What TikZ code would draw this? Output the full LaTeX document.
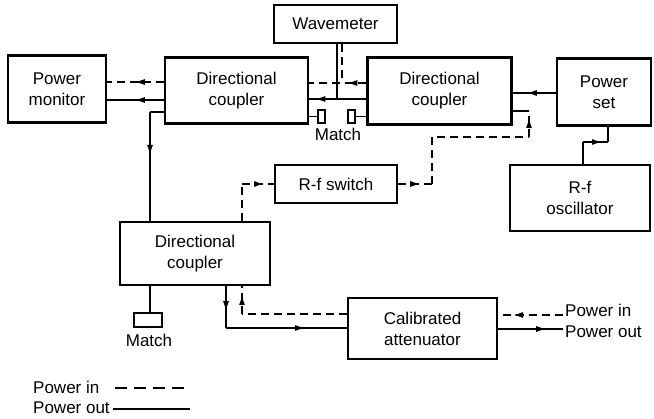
\documentclass[tikz,border=0pt]{standalone}
\usepackage{fontspec}
\setmainfont{Liberation Sans}
\usetikzlibrary{arrows.meta,decorations.markings}
\begin{document}
\begin{tikzpicture}[x=1pt,y=-1pt,
  blk/.style={draw,line width=2.4pt,inner sep=0pt,align=center,font=\fontsize{17}{21}\selectfont},
  mbox/.style={draw,line width=1.8pt,inner sep=0pt},
  wire/.style={line width=1.3pt},
  dsh/.style={wire,dash pattern=on 8pt off 5pt},
  arr/.style={postaction={decorate},decoration={markings,mark=at position #1 with {\arrow{Latex[length=10pt,width=6pt]}}}},
  lbl/.style={font=\fontsize{17}{20}\selectfont,inner sep=0pt}
]
\useasboundingbox (0,0) rectangle (654,419);

% blocks
\node[blk,minimum width=98pt,minimum height=67pt] (pm) at (57,89) {Power\\monitor};
\node[blk,minimum width=143pt,minimum height=66pt] (dc1) at (236.5,90.5) {Directional\\coupler};
\node[blk,minimum width=123pt,minimum height=38pt] (wm) at (335.5,24) {Wavemeter};
\node[blk,minimum width=144pt,minimum height=67pt] (dc2) at (439.5,91) {Directional\\coupler};
\node[blk,minimum width=94pt,minimum height=67pt] (ps) at (604,92) {Power\\set};
\node[blk,minimum width=140pt,minimum height=66pt] (osc) at (580,198) {R-f\\oscillator};
\node[blk,minimum width=122pt,minimum height=38pt] (sw) at (336,184) {R-f switch};
\node[blk,minimum width=150pt,minimum height=63pt] (dc3) at (195,253.5) {Directional\\coupler};
\node[blk,minimum width=149pt,minimum height=61pt] (att) at (422.5,328.5) {Calibrated\\attenuator};

% match loads
\node[mbox,minimum width=7pt,minimum height=13pt] (m1) at (321.5,116.5) {};
\node[mbox,minimum width=7pt,minimum height=13pt] (m2) at (351.5,116.5) {};
\node[mbox,minimum width=28pt,minimum height=14pt] (m3) at (148,320) {};
\node[lbl] (mt1) at (338,134) {Match};
\node[lbl] (mt2) at (149,340) {Match};

% power monitor <-> dc1
\draw[dsh,arr=29pt] (dc1.west |- 0,82) -- (pm.east |- 0,82);
\draw[wire,arr=29pt] (dc1.west |- 0,100) -- (pm.east |- 0,100);

% dc1 -> dc3
\coordinate (c1) at (150,112);
\draw[wire] (dc1.west |- c1) -- (c1);
\draw[wire,arr=43pt] (c1) -- (c1 |- dc3.north);

% dc2 -> dc1 and wavemeter
\draw[dsh,arr=19pt] (dc2.west |- 0,83) -- (dc1.east |- 0,83);
\draw[dsh] (342,0 |- wm.south) -- (342,83);
\draw[wire,arr=51pt] (dc2.west |- 0,99) -- (dc1.east |- 0,99);
\draw[wire] (337,0 |- wm.south) -- (337,99);

% match connections
\draw[wire] (dc1.east |- m1.west) -- (m1.west);
\draw[wire] (m2.east) -- (dc2.west |- m2.east);

% power set -> dc2
\draw[wire,arr=29pt] (ps.west |- 0,93) -- (dc2.east |- 0,93);

% r-f switch -> dc2
\coordinate (c2) at (529,111);
\coordinate (c3) at (529,137);
\coordinate (c4) at (432,137);
\coordinate (c5) at (432,184);
\draw[wire] (dc2.east |- c2) -- (c2);
\draw[dsh,arr=22pt] (sw.east) -- (c5);
\draw[dsh] (c5) -- (c4) -- (c3);
\draw[dsh,arr=19pt] (c3) -- (c2);

% oscillator -> power set
\coordinate (c6) at (583,142);
\coordinate (c7) at (608,142);
\draw[wire] (c6 |- osc.north) -- (c6);
\draw[wire,arr=19pt] (c6) -- (c7);
\draw[wire] (c7) -- (c7 |- ps.south);

% dc3 -> r-f switch
\coordinate (c8) at (242,184);
\draw[dsh] (c8 |- dc3.north) -- (c8);
\draw[dsh,arr=22pt] (c8) -- (sw.west);

% dc3 <-> attenuator
\coordinate (c9) at (226,328);
\draw[wire,arr=25pt] (c9 |- dc3.south) -- (c9);
\draw[wire,arr=79pt] (c9) -- (att.west |- c9);
\coordinate (c10) at (242,314);
\draw[dsh] (att.west |- c10) -- (c10);
\draw[dsh,arr=19pt] (c10) -- (c10 |- dc3.south);

% match at dc3
\draw[wire] (m3.north -| 150,0) -- (150,0 |- dc3.south);

% external ports
\node[lbl,anchor=west] (pin) at (565,310) {Power in};
\node[lbl,anchor=west] (pout) at (565,332) {Power out};
\coordinate (e1) at (563,315);
\coordinate (e2) at (563,329);
\draw[dsh,arr=50pt] (e1) -- (att.east |- e1);
\draw[wire,arr=48pt] (att.east |- e2) -- (e2);

% legend
\node[lbl,anchor=west] (lin) at (33,387) {Power in};
\node[lbl,anchor=west] (lout) at (33,408) {Power out};
\draw[wire,dash pattern=on 12pt off 7pt] (115,388) -- (187,388);
\draw[wire] (113,409) -- (190,409);
\end{tikzpicture}
\end{document}
